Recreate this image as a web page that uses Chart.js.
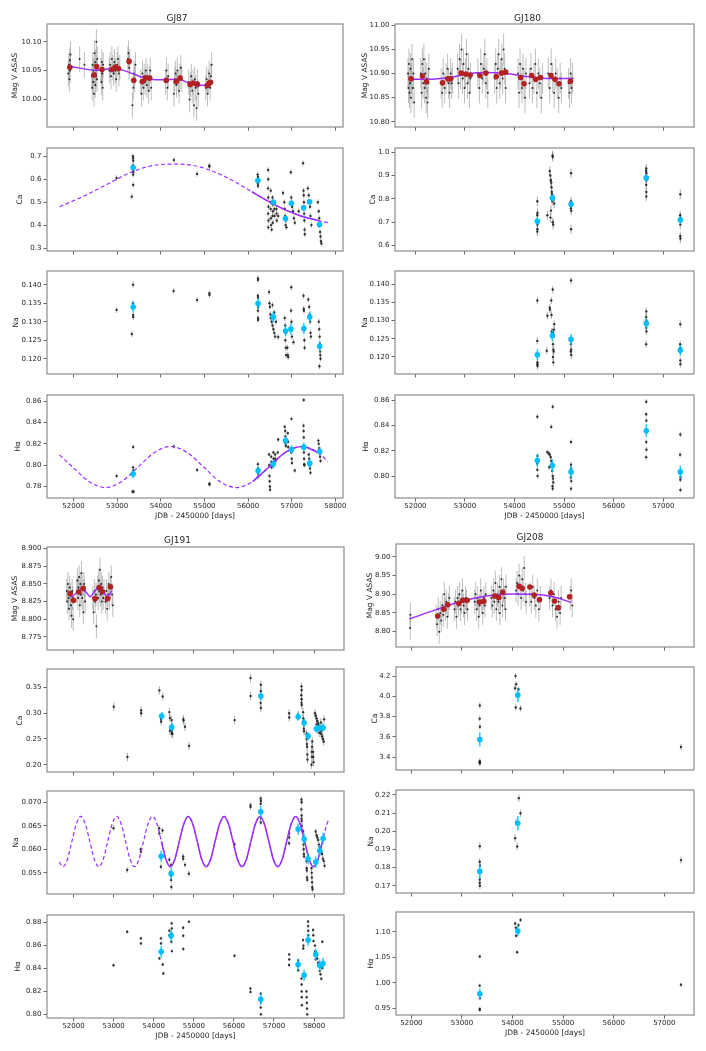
<!DOCTYPE html>
<html>
<head>
<meta charset="utf-8">
<script src="https://cdn.jsdelivr.net/npm/chart.js@4.4.0/dist/chart.umd.min.js"></script>
<style>
  body { margin: 0; background: #fff; width: 706px; height: 1051px; position: relative; overflow: hidden; }
  canvas { position: absolute; }
</style>
</head>
<body>
<script>
// ---------- shared tick labels ----------
const xTicksLong = [52000, 53000, 54000, 55000, 56000, 57000, 58000];
const xTicksShort = [52000, 53000, 54000, 55000, 56000, 57000];

// ---------- GJ87 ----------
const gj87Asas = [
  [51880,10.045],[51895,10.06],[51905,10.035],[51915,10.068],[51925,10.05],[51932,10.078],
  [52140,10.07],[52250,10.06],
  [52420,10.04],[52430,10.02],[52440,10.06],[52450,10.03],[52460,10.05],[52470,10.01],[52480,10.08],[52490,10.045],
  [52500,10.025],[52505,10.065],[52515,10.04],[52525,10.10],[52530,10.055],[52540,10.035],[52545,10.07],
  [52630,10.05],[52640,10.03],[52650,10.065],[52660,10.045],[52670,10.02],[52680,10.06],
  [52820,10.05],[52840,10.06],[52860,10.04],[52880,10.07],[52900,10.055],[52920,10.045],[52940,10.065],
  [52960,10.05],[52980,10.035],[53000,10.06],[53020,10.07],[53040,10.045],[53060,10.055],
  [53245,10.07],[53260,10.08],[53275,10.055],[53290,10.065],
  [53350,9.99],[53370,10.02],[53385,10.045],[53400,10.035],[53420,10.06],
  [53540,10.03],[53560,10.01],[53580,10.045],[53600,10.02],[53620,10.04],[53640,10.03],[53660,10.05],
  [53680,10.025],[53700,10.04],[53720,10.015],[53740,10.035],[53760,10.05],[53780,10.02],
  [54110,10.03],[54130,10.05],[54150,10.02],[54170,10.04],[54300,10.01],[54320,10.035],[54340,10.045],
  [54360,10.025],[54380,10.05],[54400,10.03],[54420,10.015],[54440,10.04],[54460,10.055],[54480,10.035],
  [54640,10.03],[54660,10.0],[54680,10.025],[54700,10.04],[54720,10.015],[54740,10.03],[54760,9.99],
  [54780,10.035],[54800,10.02],[54820,9.985],[54840,10.03],[54860,10.01],
  [55030,10.02],[55050,10.035],[55070,10.01],[55090,10.03],[55110,10.045],[55130,10.02],[55150,10.04],[55165,10.06]
];
const gj87Bins = [
  [51917,10.0558],[52470,10.0424],[52531,10.057],[52653,10.052],[52880,10.052],[52956,10.056],[53032,10.0535],
  [53275,10.066],[53381,10.033],[53578,10.031],[53654,10.037],[53745,10.037],[54124,10.033],[54352,10.031],
  [54443,10.037],[54671,10.026],[54747,10.0285],[54838,10.026],[55065,10.024],[55111,10.0285],[55141,10.0296]
];
const gj87AsasFit = [
  [51917,10.0576],[52516,10.0506],[52895,10.0535],[53085,10.0517],[53350,10.0448],[53578,10.0384],
  [53882,10.0343],[54413,10.0349],[54640,10.0285],[54868,10.0244],[55141,10.0244]
];
const gj87Ca = [
  [52986,0.605],[53335,0.524],[53362,0.70],[53366,0.69],[53370,0.68],[53364,0.66],[53368,0.64],[53372,0.63],[53366,0.62],[53368,0.575],
  [54299,0.684],[54830,0.623],[55111,0.659],[55115,0.655],
  [56220,0.62],[56226,0.61],[56230,0.60],[56224,0.58],[56228,0.57],
  [56460,0.64],[56462,0.60],[56458,0.56],[56464,0.52],[56466,0.48],[56460,0.45],[56468,0.42],[56462,0.39],
  [56520,0.55],[56524,0.50],[56518,0.47],[56522,0.43],[56526,0.40],
  [56560,0.52],[56564,0.49],[56568,0.46],[56562,0.44],[56566,0.41],[56540,0.38],
  [56600,0.50],[56604,0.47],[56608,0.44],[56650,0.47],[56654,0.45],[56658,0.42],[56690,0.44],
  [56800,0.54],[56830,0.50],[56840,0.47],[56850,0.44],[56870,0.42],[56860,0.40],[56880,0.39],
  [56980,0.63],[56990,0.52],[57000,0.50],[57010,0.48],[57030,0.46],[57050,0.43],[57070,0.41],[57160,0.46],
  [57260,0.67],[57270,0.55],[57275,0.53],[57280,0.50],[57285,0.45],[57290,0.42],[57295,0.38],[57300,0.36],
  [57370,0.56],[57390,0.53],[57400,0.50],[57420,0.48],[57430,0.44],[57450,0.40],
  [57600,0.50],[57620,0.46],[57630,0.43],[57640,0.40],[57650,0.37],[57660,0.35],[57670,0.33],[57680,0.32]
];
const gj87CaMean = [[53366,0.651],[56226,0.594],[56583,0.499],[56856,0.429],[56992,0.495],[57273,0.475],[57410,0.502],[57637,0.402]];
const gj87CaFit = [
  [51681,0.480],[52212,0.524],[52744,0.575],[53350,0.633],[53806,0.659],[54337,0.666],[54868,0.655],
  [55475,0.611],[56082,0.546],[56613,0.488],[57144,0.444],[57637,0.418],[57827,0.411]
];
const gj87CaSolid = [56082, 57637];
const gj87Na = [
  [52987,0.1332],[53336,0.1267],[53366,0.140],[53364,0.135],[53368,0.1345],[53366,0.1318],[53370,0.1313],
  [54293,0.1383],[54832,0.1359],[55113,0.1377],[55115,0.1372],
  [56226,0.1417],[56229,0.1413],[56224,0.137],[56228,0.1365],[56230,0.134],[56226,0.133],[56228,0.131],[56230,0.1305],
  [56480,0.138],[56490,0.135],[56500,0.134],[56510,0.132],[56520,0.131],[56540,0.130],[56560,0.129],[56580,0.128],
  [56600,0.127],[56620,0.126],[56560,0.1345],[56600,0.1325],[56640,0.130],[56690,0.1259],
  [56840,0.131],[56850,0.129],[56860,0.127],[56855,0.125],[56865,0.123],[56870,0.121],[56900,0.123],[56910,0.121],[56920,0.1205],
  [56990,0.1393],[56985,0.133],[56995,0.130],[57000,0.128],[57005,0.126],[57040,0.1245],
  [57270,0.137],[57275,0.1335],[57280,0.133],[57285,0.128],[57290,0.125],[57295,0.123],
  [57380,0.136],[57400,0.134],[57410,0.132],[57420,0.130],[57430,0.127],[57440,0.126],
  [57620,0.130],[57630,0.128],[57640,0.126],[57645,0.124],[57650,0.122],[57655,0.121],[57660,0.120],[57635,0.118]
];
const gj87NaMean = [[53367,0.134],[56229,0.1349],[56578,0.1313],[56859,0.1275],[56981,0.128],[57277,0.1282],[57413,0.1313],[57641,0.1234]];
const gj87Ha = [
  [52987,0.790],[53367,0.817],[53365,0.798],[53369,0.795],[53350,0.7753],[53380,0.7753],
  [54300,0.8175],[54832,0.7955],[55113,0.7828],[55117,0.782],
  [56226,0.801],[56228,0.797],[56230,0.792],[56224,0.789],
  [56480,0.810],[56485,0.800],[56490,0.790],[56495,0.785],[56500,0.780],[56505,0.777],
  [56530,0.808],[56535,0.803],[56540,0.798],[56580,0.812],[56585,0.806],[56590,0.802],
  [56620,0.810],[56625,0.806],[56630,0.804],[56680,0.812],[56690,0.824],
  [56840,0.836],[56850,0.832],[56855,0.827],[56860,0.820],[56865,0.818],[56910,0.830],[56915,0.822],[56920,0.817],
  [56995,0.8434],[56990,0.812],[57000,0.806],[57005,0.802],[57070,0.795],
  [57275,0.861],[57270,0.837],[57272,0.832],[57276,0.826],[57278,0.818],[57280,0.812],[57284,0.806],[57286,0.801],[57290,0.800],
  [57390,0.810],[57400,0.806],[57410,0.800],[57420,0.797],[57430,0.793],
  [57610,0.823],[57620,0.820],[57630,0.816],[57640,0.812],[57650,0.808],[57660,0.804]
];
const gj87HaMean = [[53367,0.7917],[56229,0.7948],[56578,0.8011],[56859,0.8231],[56996,0.8146],[57277,0.8169],[57413,0.8017],[57641,0.8128]];
const gj87HaFit = [
  [51681,0.8096],[51980,0.7983],[52355,0.7847],[52730,0.7791],[53105,0.7847],[53480,0.7983],[53855,0.8119],
  [54230,0.8175],[54605,0.8119],[54980,0.7983],[55355,0.7847],[55730,0.7791],[56105,0.7847],[56480,0.7983],
  [56855,0.8119],[57230,0.8175],[57605,0.8119],[57830,0.8035]
];
const gj87HaSolid = [56105, 57605];

// ---------- GJ180 ----------
const gj180Asas = [
  [51850,10.90],[51860,10.87],[51870,10.92],[51880,10.86],[51890,10.88],[51900,10.91],[51910,10.85],[51920,10.89],
  [51930,10.93],[51945,10.87],[51960,10.90],[51975,10.84],
  [52110,10.90],[52125,10.86],[52140,10.92],[52155,10.88],[52170,10.93],[52185,10.87],[52200,10.90],[52215,10.85],
  [52230,10.89],[52245,10.84],[52260,10.88],[52270,10.91],
  [52520,10.88],[52540,10.86],[52560,10.90],[52590,10.87],[52620,10.89],[52650,10.91],[52670,10.88],[52690,10.86],
  [52710,10.90],[52730,10.88],[52750,10.89],
  [52850,10.91],[52870,10.88],[52890,10.93],[52910,10.90],[52930,10.95],[52950,10.89],[52970,10.92],[52990,10.87],
  [53010,10.90],[53030,10.94],[53050,10.88],[53070,10.91],[53090,10.86],[53110,10.89],
  [53260,10.90],[53290,10.87],[53320,10.92],[53350,10.89],[53380,10.91],[53400,10.94],[53420,10.88],[53440,10.90],[53460,10.86],
  [53600,10.89],[53620,10.92],[53640,10.87],[53660,10.91],[53680,10.94],[53700,10.88],[53720,10.90],[53740,10.93],
  [53760,10.89],[53780,10.95],[53800,10.91],[53820,10.87],
  [54070,10.90],[54090,10.86],[54110,10.92],[54130,10.89],[54150,10.87],[54170,10.91],[54190,10.88],[54210,10.85],[54230,10.90],
  [54300,10.88],[54330,10.91],[54360,10.87],[54390,10.89],[54420,10.92],[54450,10.86],[54480,10.90],[54510,10.88],[54540,10.85],[54565,10.89],
  [54680,10.90],[54710,10.87],[54740,10.92],[54770,10.89],[54800,10.86],[54830,10.90],[54860,10.88],[54890,10.85],[54920,10.89],[54945,10.87],
  [55090,10.88],[55110,10.86],[55130,10.90],[55150,10.87],[55170,10.89]
];
const gj180Bins = [
  [51912,10.889],[52142,10.895],[52222,10.883],[52546,10.881],[52654,10.889],[52708,10.889],[52923,10.901],
  [53018,10.899],[53105,10.897],[53301,10.896],[53422,10.901],[53631,10.894],[53739,10.901],[53820,10.903],
  [54123,10.892],[54190,10.879],[54345,10.896],[54426,10.888],[54520,10.892],[54736,10.896],[54817,10.888],
  [54898,10.879],[55127,10.884]
];
const gj180AsasFit = [
  [51865,10.888],[52222,10.888],[52755,10.893],[53024,10.899],[53429,10.902],[53833,10.900],[54237,10.894],[54642,10.890],[55181,10.890]
];
const gj180Ca = [
  [54460,0.79],[54462,0.74],[54458,0.73],[54464,0.70],[54460,0.69],[54462,0.67],[54458,0.66],[54662,0.73],
  [54710,0.92],[54720,0.90],[54730,0.88],[54740,0.87],[54745,0.85],[54750,0.83],[54755,0.82],[54760,0.79],[54735,0.75],
  [54725,0.72],[54770,0.70],[54780,0.69],[54790,0.80],[54800,0.78],[54766,0.986],[54770,0.98],
  [55140,0.91],[55138,0.79],[55142,0.78],[55136,0.76],[55144,0.75],[55140,0.67],
  [56657,0.93],[56655,0.92],[56659,0.91],[56657,0.89],[56661,0.88],[56655,0.86],[56659,0.83],[56657,0.81],
  [57344,0.82],[57340,0.73],[57348,0.72],[57344,0.69],[57342,0.64],[57346,0.63]
];
const gj180CaMean = [[54460,0.704],[54763,0.804],[55140,0.777],[56657,0.89],[57344,0.71]];
const gj180Na = [
  [54460,0.1355],[54458,0.1244],[54462,0.1185],[54460,0.118],[54464,0.1175],[54662,0.1313],[54650,0.1217],
  [54710,0.1335],[54715,0.133],[54740,0.1355],[54745,0.1315],[54750,0.127],
  [54770,0.1385],[54768,0.1268],[54772,0.1265],[54776,0.1235],[54780,0.122],[54775,0.120],[54782,0.1185],
  [54790,0.1215],[54795,0.1275],[54800,0.129],
  [55140,0.141],[55138,0.1235],[55142,0.122],[55136,0.1215],[55144,0.1205],
  [56657,0.1325],[56655,0.131],[56659,0.130],[56657,0.128],[56661,0.127],[56655,0.1235],
  [57344,0.129],[57340,0.1235],[57348,0.1225],[57344,0.119],[57346,0.118]
];
const gj180NaMean = [[54460,0.1206],[54763,0.1258],[55140,0.1248],[56657,0.1292],[57344,0.1218]];
const gj180Ha = [
  [54460,0.847],[54462,0.816],[54458,0.810],[54460,0.805],[54464,0.800],
  [54660,0.819],[54690,0.818],[54710,0.817],[54730,0.815],[54740,0.812],[54750,0.809],[54700,0.807],[54760,0.804],
  [54770,0.800],[54775,0.798],[54780,0.795],[54765,0.792],[54770,0.790],[54740,0.839],[54770,0.855],
  [55140,0.827],[55138,0.809],[55142,0.806],[55136,0.799],[55144,0.796],[55140,0.790],
  [56657,0.859],[56655,0.849],[56659,0.844],[56657,0.827],[56661,0.821],[56655,0.815],
  [57344,0.833],[57340,0.817],[57348,0.799],[57344,0.797],[57346,0.789]
];
const gj180HaMean = [[54460,0.8123],[54763,0.8083],[55140,0.8033],[56657,0.836],[57344,0.8033]];

// ---------- GJ191 ----------
const gj191Asas = [
  [51830,8.84],[51845,8.825],[51860,8.85],[51875,8.83],[51890,8.815],[51905,8.845],[51920,8.835],[51935,8.82],
  [51950,8.805],[51965,8.84],[51980,8.83],[51990,8.80],
  [52080,8.84],[52095,8.855],[52110,8.83],[52125,8.845],[52140,8.86],[52155,8.82],[52170,8.85],[52185,8.835],
  [52200,8.865],[52215,8.83],[52230,8.845],[52245,8.81],[52260,8.85],[52275,8.84],[52290,8.825],
  [52480,8.83],[52500,8.81],[52520,8.84],[52540,8.825],[52560,8.835],[52570,8.79],
  [52600,8.845],[52615,8.83],[52630,8.855],[52645,8.84],[52660,8.87],[52675,8.835],[52690,8.85],[52705,8.825],
  [52720,8.845],[52740,8.83],[52760,8.84],
  [52800,8.825],[52820,8.84],[52840,8.815],[52860,8.835],[52880,8.85],[52900,8.83],[52920,8.845],[52940,8.86],
  [52960,8.835],[52980,8.82]
];
const gj191Bins = [[51917,8.8363],[52000,8.8268],[52133,8.8387],[52241,8.8439],[52539,8.8292],[52639,8.8449],[52714,8.8392],[52847,8.8292],[52921,8.8458]];
const gj191AsasFit = [
  [51876,8.8358],[51959,8.832],[52083,8.8382],[52207,8.8439],[52315,8.8382],[52415,8.832],[52523,8.8392],
  [52639,8.8463],[52747,8.8392],[52830,8.832],[52963,8.8406]
];
const gj191Ca = [
  [53004,0.3125],[53344,0.2149],[53685,0.3054],[53687,0.2998],
  [54141,0.3442],[54224,0.3325],[54180,0.2885],[54185,0.2838],[54390,0.3021],[54405,0.2906],[54405,0.266],
  [54448,0.2866],[54450,0.276],[54446,0.266],[54452,0.261],[54465,0.2595],
  [54739,0.2885],[54745,0.2856],[54780,0.2737],[54880,0.2362],
  [56017,0.2866],[56415,0.3681],[56415,0.3332],
  [56672,0.3552],[56670,0.343],[56674,0.334],[56668,0.32],[56672,0.31],
  [57378,0.300],[57380,0.2917],[57602,0.297],
  [57685,0.352],[57688,0.345],[57682,0.335],[57690,0.327],[57686,0.320],[57692,0.316],
  [57725,0.302],[57730,0.290],[57735,0.285],[57740,0.279],[57745,0.270],[57750,0.265],
  [57810,0.260],[57815,0.250],[57820,0.240],[57825,0.235],[57830,0.220],[57835,0.210],
  [57935,0.200],[57940,0.225],[57945,0.215],[57950,0.235],[57955,0.245],[57975,0.225],[57980,0.215],[57985,0.205],
  [58020,0.300],[58040,0.295],[58060,0.290],[58080,0.285],[58100,0.280],[58120,0.275],[58140,0.270],[58160,0.265],
  [58180,0.260],[58200,0.255],[58220,0.250],[58240,0.245],[58060,0.278],[58090,0.268],[58130,0.262],[58170,0.282],
  [58210,0.272],[58250,0.288]
];
const gj191CaMean = [[54199,0.2944],[54448,0.2724],[56672,0.3332],[57602,0.2931],[57751,0.2814],[57851,0.2556],[58058,0.2698],[58141,0.2711],[58224,0.2718]];
const gj191Na = [
  [52997,0.0645],[53338,0.0556],[53679,0.0600],[53681,0.0595],
  [54136,0.0645],[54138,0.0634],[54219,0.0640],[54180,0.0563],[54390,0.0578],[54405,0.0550],
  [54435,0.0567],[54437,0.0545],[54433,0.0535],[54439,0.0520],
  [54734,0.0585],[54736,0.0580],[54780,0.0567],[54877,0.0548],
  [56014,0.0611],[56413,0.0694],[56415,0.0690],
  [56670,0.0708],[56672,0.0703],[56668,0.0697],[56674,0.0667],[56670,0.0657],
  [57378,0.0634],[57380,0.0625],[57376,0.0613],
  [57685,0.0706],[57688,0.0700],[57682,0.0685],[57690,0.0672],[57686,0.0665],[57692,0.0660],[57695,0.0650],[57700,0.0640],
  [57725,0.0638],[57730,0.0625],[57735,0.0610],[57740,0.0600],[57745,0.0590],[57750,0.0585],
  [57810,0.0575],[57815,0.0560],[57820,0.0555],[57825,0.0540],[57830,0.0535],
  [57935,0.0560],[57940,0.0550],[57945,0.0540],[57950,0.0530],[57955,0.0520],[57960,0.0515],
  [58040,0.0638],[58060,0.0630],[58080,0.0625],[58100,0.0620],[58120,0.0610],[58140,0.0605],[58160,0.0600],
  [58180,0.0595],[58200,0.0590],[58220,0.0580],[58240,0.0575],[58260,0.0565]
];
const gj191NaMean = [[54186,0.0585],[54435,0.0548],[56670,0.0680],[57601,0.0643],[57751,0.0622],[57850,0.0580],[58041,0.0573],[58141,0.0597],[58224,0.0623]];
const gj191NaFitT = [
  51643, 51736, 51848, 51959, 52071, 52183, 52294, 52406, 52517, 52629, 52741, 52852, 52964, 53076, 53187, 53299,
  53410, 53522, 53634, 53745, 53857, 53969, 54080, 54192, 54303, 54415, 54527, 54638, 54750, 54862, 54973, 55085,
  55196, 55308, 55420, 55531, 55643, 55755, 55866, 55978, 56089, 56201, 56313, 56424, 56536, 56648, 56759, 56871,
  56982, 57094, 57206, 57317, 57429, 57541, 57652, 57764, 57875, 57987, 58099, 58210, 58322, 58374
];
const gj191NaFitV = [
  0.0573, 0.0563, 0.0579, 0.0617, 0.0654, 0.0670, 0.0654, 0.0617, 0.0579, 0.0563, 0.0579, 0.0617, 0.0654, 0.0670, 0.0654, 0.0617,
  0.0579, 0.0563, 0.0579, 0.0617, 0.0654, 0.0670, 0.0654, 0.0617, 0.0579, 0.0563, 0.0579, 0.0617, 0.0654, 0.0670, 0.0654, 0.0617,
  0.0579, 0.0563, 0.0579, 0.0617, 0.0654, 0.0670, 0.0654, 0.0617, 0.0579, 0.0563, 0.0579, 0.0617, 0.0654, 0.0670, 0.0654, 0.0617,
  0.0579, 0.0563, 0.0579, 0.0617, 0.0654, 0.0670, 0.0654, 0.0617, 0.0579, 0.0563, 0.0579, 0.0617, 0.0654, 0.0665
];
const gj191NaSolid = [54192, 58210];
const gj191Ha = [
  [52997,0.8429],[53338,0.8721],[53679,0.8663],[53681,0.8619],
  [54141,0.8488],[54180,0.8663],[54182,0.8619],[54224,0.8435],[54240,0.8356],
  [54390,0.8730],[54392,0.8690],[54440,0.8634],[54448,0.8794],[54450,0.8750],[54446,0.8707],[54452,0.8552],
  [54734,0.8756],[54736,0.8686],[54738,0.8570],[54877,0.8809],
  [56014,0.8511],[56413,0.8225],[56415,0.8196],
  [56670,0.818],[56672,0.811],[56668,0.806],[56674,0.800],
  [57378,0.8523],[57380,0.848],[57376,0.843],[57602,0.847],[57604,0.8385],
  [57685,0.8312],[57688,0.826],[57690,0.820],[57692,0.815],[57695,0.808],
  [57725,0.8648],[57730,0.8575],[57735,0.860],
  [57810,0.820],[57815,0.815],[57820,0.810],[57825,0.805],[57830,0.800],
  [57850,0.881],[57852,0.877],[57854,0.873],[57856,0.869],
  [57975,0.8736],[57980,0.869],[57985,0.864],[58020,0.860],[58030,0.855],[58040,0.848],
  [58080,0.8488],[58100,0.845],[58120,0.842],[58140,0.838],[58160,0.835],[58180,0.831],[58200,0.8405],[58220,0.8455],[58205,0.8634]
];
const gj191HaMean = [[54186,0.8546],[54435,0.8686],[56670,0.8131],[57601,0.8435],[57751,0.8342],[57850,0.8648],[58041,0.8523],[58141,0.8429],[58224,0.8444]];

// ---------- GJ208 ----------
const gj208Asas = [
  [51975,8.81],[51978,8.845],
  [52490,8.84],[52510,8.82],[52530,8.86],[52550,8.80],[52570,8.85],[52590,8.83],[52610,8.87],[52630,8.845],
  [52650,8.90],[52670,8.86],[52690,8.88],[52710,8.84],[52730,8.87],[52750,8.89],
  [52850,8.86],[52870,8.88],[52890,8.84],[52910,8.89],[52930,8.87],[52950,8.90],[52970,8.86],[52990,8.88],
  [53010,8.91],[53030,8.87],[53050,8.85],[53070,8.89],[53090,8.88],[53110,8.86],
  [53250,8.88],[53270,8.90],[53290,8.86],[53310,8.89],[53330,8.84],[53350,8.87],[53370,8.91],[53390,8.88],
  [53410,8.85],[53430,8.89],[53450,8.87],[53470,8.90],
  [53580,8.89],[53600,8.87],[53620,8.91],[53640,8.88],[53660,8.93],[53680,8.86],[53700,8.90],[53720,8.88],
  [53740,8.92],[53750,8.85],[53760,8.89],[53780,8.94],[53800,8.87],[53820,8.91],[53840,8.89],[53860,8.86],[53870,8.92],
  [54070,8.91],[54090,8.93],[54110,8.90],[54130,8.95],[54150,8.92],[54170,8.89],[54190,8.94],[54210,8.91],
  [54230,8.97],[54250,8.90],[54270,8.88],
  [54340,8.90],[54370,8.88],[54400,8.92],[54430,8.89],[54460,8.87],[54490,8.91],[54520,8.86],[54550,8.89],
  [54730,8.89],[54760,8.91],[54790,8.87],[54820,8.90],[54850,8.86],[54880,8.84],[54910,8.88],[54940,8.85],[54960,8.89],
  [55140,8.89],[55160,8.91],[55180,8.87]
];
const gj208Bins = [
  [52521,8.8418],[52640,8.8596],[52719,8.872],[52937,8.8756],[53016,8.8836],[53102,8.8836],[53346,8.8791],
  [53431,8.8809],[53649,8.8951],[53728,8.8907],[53807,8.9049],[54130,8.9209],[54190,8.9156],[54342,8.9191],
  [54427,8.8978],[54533,8.8853],[54757,8.9031],[54830,8.8818],[54902,8.864],[55127,8.8933]
];
const gj208AsasFit = [
  [51960,8.8338],[52488,8.8587],[53016,8.8818],[53477,8.8951],[54005,8.9004],[54401,8.8996],[54797,8.8933],[55160,8.8782]
];
const gj208Ca = [
  [53352,3.91],[53350,3.78],[53354,3.70],[53352,3.36],[53350,3.35],[53354,3.34],
  [54058,4.20],[54070,4.12],[54051,4.08],[54064,3.89],[54117,4.07],[54157,3.88],[57330,3.50]
];
const gj208CaMean = [[53352,3.575],[54104,4.0116]];
const gj208Na = [
  [53352,0.1918],[53350,0.1832],[53354,0.1812],[53352,0.1734],[53350,0.1716],[53354,0.170],
  [54051,0.1962],[54070,0.2050],[54091,0.1916],[54124,0.2182],[54157,0.2099],[57330,0.1841]
];
const gj208NaMean = [[53352,0.1779],[54104,0.2044]];
const gj208Ha = [
  [53352,1.0515],[53350,0.9945],[53354,0.970],[53352,0.949],[53350,0.947],
  [54051,1.116],[54064,1.108],[54070,1.092],[54091,1.060],[54117,1.113],[54157,1.123],[57330,0.9963]
];
const gj208HaMean = [[53352,0.9784],[54104,1.1013]];

// ---------- styling ----------
const FONT = 'DejaVu Sans';
const TXT = '#262626';
const FRAME = '#8c8c8c';
const FIT = '#9b30ff';
Chart.defaults.font.family = FONT;

const xy = a => a.map(p => ({ x: p[0], y: p[1] }));
const inRange = (a, r) => a.filter(p => p[0] >= r[0] && p[0] <= r[1]);

function asasDs(pts, err) {
  return { data: xy(pts), err, errColor: 'rgba(100,100,100,0.42)', pointRadius: 1,
    pointBackgroundColor: 'rgba(0,0,0,0.8)', pointBorderWidth: 0, order: 4 };
}
function grayDs(pts, err) {
  return { data: xy(pts), err, errColor: 'rgba(90,90,90,0.5)', pointRadius: 1.2,
    pointBackgroundColor: 'rgba(25,25,25,0.85)', pointBorderWidth: 0, order: 3 };
}
function meanDs(pts, err) {
  return { data: xy(pts), err, errColor: 'rgba(0,191,255,0.85)', errWidth: 1.5, pointRadius: 2.8,
    pointBackgroundColor: '#00bfff', pointBorderWidth: 0, order: 1 };
}
function binDs(pts) {
  return { data: xy(pts), pointRadius: 2.8, pointBackgroundColor: '#b22222', pointBorderWidth: 0, order: 1 };
}
function fitDs(pts, dashed) {
  return { type: 'line', data: xy(pts), borderColor: FIT, borderWidth: dashed ? 1.2 : 1.5,
    borderDash: dashed ? [4, 2.5] : [], pointRadius: 0, cubicInterpolationMode: 'monotone',
    fill: false, order: 2 };
}

// draws each dataset's vertical error bars just before its points
const errorBars = {
  id: 'errorBars',
  beforeDatasetDraw(chart, args) {
    const ds = chart.data.datasets[args.index];
    if (!ds.err) return;
    const y = chart.scales.y, a = chart.chartArea, ctx = chart.ctx;
    ctx.save();
    ctx.beginPath();
    ctx.rect(a.left, a.top, a.right - a.left, a.bottom - a.top);
    ctx.clip();
    ctx.strokeStyle = ds.errColor;
    ctx.lineWidth = ds.errWidth || 1;
    ctx.beginPath();
    args.meta.data.forEach((el, i) => {
      const v = ds.data[i].y;
      ctx.moveTo(el.x, y.getPixelForValue(v + ds.err));
      ctx.lineTo(el.x, y.getPixelForValue(v - ds.err));
    });
    ctx.stroke();
    ctx.restore();
  }
};

const frameBox = {
  id: 'frameBox',
  afterDraw(chart) {
    const a = chart.chartArea, ctx = chart.ctx;
    ctx.save();
    ctx.strokeStyle = FRAME;
    ctx.lineWidth = 1.2;
    ctx.strokeRect(a.left, a.top, a.right - a.left, a.bottom - a.top);
    ctx.restore();
  }
};

function addPanel(o) {
  const cv = document.createElement('canvas');
  const left = Math.round(o.labelX - 4.5);
  const yW = o.left - left;
  const hasTitle = o.title != null;
  const top = hasTitle ? Math.round(o.titleY - 5.4) : o.top - 8;
  const head = o.top - top;
  const xH = o.bottomAxis ? 24 : 8;
  const W = yW + o.width + 12, H = head + o.height + xH;
  cv.width = W; cv.height = H;
  cv.style.left = left + 'px'; cv.style.top = top + 'px';
  cv.style.width = W + 'px'; cv.style.height = H + 'px';
  document.body.appendChild(cv);

  const tickFont = { family: FONT, size: 7 };
  new Chart(cv, {
    type: 'scatter',
    data: { datasets: o.datasets },
    options: {
      responsive: false, animation: false, events: [], devicePixelRatio: 1,
      layout: { padding: { top: hasTitle ? 0 : head, right: 12, bottom: 0, left: 0 } },
      plugins: {
        legend: { display: false },
        tooltip: { enabled: false },
        title: hasTitle
          ? { display: true, text: o.title, color: TXT, font: { family: FONT, size: 9, weight: 'normal' },
              padding: { top: 0, bottom: head - 10.8 } }
          : { display: false }
      },
      scales: {
        x: {
          type: 'linear', min: o.xMin, max: o.xMax,
          afterBuildTicks: s => { s.ticks = o.xTicks.map(v => ({ value: v })); },
          afterFit: s => { s.height = xH; },
          grid: { display: true, drawOnChartArea: false, drawTicks: true, tickLength: 3.5, tickColor: '#666', tickWidth: 1 },
          border: { display: false },
          ticks: { autoSkip: false, maxRotation: 0, padding: 0, color: TXT, font: tickFont,
                   callback: v => o.bottomAxis ? String(v) : '' },
          title: o.bottomAxis
            ? { display: true, text: 'JDB - 2450000 [days]', color: TXT, font: { family: FONT, size: 7.5 }, padding: { top: 0, bottom: 1 } }
            : { display: false }
        },
        y: {
          type: 'linear', min: o.yMin, max: o.yMax,
          afterBuildTicks: s => { s.ticks = o.yTicks.map(v => ({ value: v })); },
          afterFit: s => { s.width = yW; },
          grid: { display: true, drawOnChartArea: false, drawTicks: true, tickLength: 3.5, tickColor: '#666', tickWidth: 1 },
          border: { display: false },
          ticks: { autoSkip: false, padding: 2, color: TXT, font: tickFont, callback: v => v.toFixed(o.dec) },
          title: { display: true, text: o.yTitle, color: TXT, font: { family: FONT, size: 7.5 }, padding: { top: 0, bottom: 0 } }
        }
      }
    },
    plugins: [errorBars, frameBox]
  });
}

function addStar(s) {
  s.panels.forEach((p, i) => {
    addPanel(Object.assign({
      left: s.left, width: s.width, top: s.tops[i], height: s.height,
      labelX: s.labelXs[i], xMin: s.xMin, xMax: s.xMax, xTicks: s.xTicks,
      bottomAxis: i === s.panels.length - 1,
      title: i === 0 ? s.name : null, titleY: s.titleY
    }, p));
  });
}

// ---------- build ----------
addStar({
  name: 'GJ87', left: 47, width: 296, tops: [24, 148, 271, 395], height: 103, titleY: 18,
  labelXs: [15, 20, 16, 18], xMin: 51393, xMax: 58175, xTicks: xTicksLong,
  panels: [
    { yTitle: 'Mag V ASAS', yMin: 9.952, yMax: 10.131, yTicks: [10.00, 10.05, 10.10], dec: 2,
      datasets: [asasDs(gj87Asas, 0.022), fitDs(gj87AsasFit, false), binDs(gj87Bins)] },
    { yTitle: 'Ca', yMin: 0.287, yMax: 0.736, yTicks: [0.3, 0.4, 0.5, 0.6, 0.7], dec: 1,
      datasets: [grayDs(gj87Ca, 0.012), fitDs(gj87CaFit, true), fitDs(inRange(gj87CaFit, gj87CaSolid), false), meanDs(gj87CaMean, 0.012)] },
    { yTitle: 'Na', yMin: 0.1159, yMax: 0.1437, yTicks: [0.120, 0.125, 0.130, 0.135, 0.140], dec: 3,
      datasets: [grayDs(gj87Na, 0.0008), meanDs(gj87NaMean, 0.0015)] },
    { yTitle: 'Hα', yMin: 0.7693, yMax: 0.8657, yTicks: [0.78, 0.80, 0.82, 0.84, 0.86], dec: 2,
      datasets: [grayDs(gj87Ha, 0.002), fitDs(gj87HaFit, true), fitDs(inRange(gj87HaFit, gj87HaSolid), false), meanDs(gj87HaMean, 0.004)] }
  ]
});

addStar({
  name: 'GJ180', left: 395, width: 299, tops: [24, 148, 271, 395], height: 103, titleY: 18,
  labelXs: [365, 373, 365, 366], xMin: 51588, xMax: 57620, xTicks: xTicksShort,
  panels: [
    { yTitle: 'Mag V ASAS', yMin: 10.789, yMax: 11.003, yTicks: [10.80, 10.85, 10.90, 10.95, 11.00], dec: 2,
      datasets: [asasDs(gj180Asas, 0.032), fitDs(gj180AsasFit, false), binDs(gj180Bins)] },
    { yTitle: 'Ca', yMin: 0.577, yMax: 1.018, yTicks: [0.6, 0.7, 0.8, 0.9, 1.0], dec: 1,
      datasets: [grayDs(gj180Ca, 0.02), meanDs(gj180CaMean, 0.015)] },
    { yTitle: 'Na', yMin: 0.1153, yMax: 0.1436, yTicks: [0.120, 0.125, 0.130, 0.135, 0.140], dec: 3,
      datasets: [grayDs(gj180Na, 0.001), meanDs(gj180NaMean, 0.0015)] },
    { yTitle: 'Hα', yMin: 0.7826, yMax: 0.8643, yTicks: [0.80, 0.82, 0.84, 0.86], dec: 2,
      datasets: [grayDs(gj180Ha, 0.002), meanDs(gj180HaMean, 0.005)] }
  ]
});

addStar({
  name: 'GJ191', left: 47, width: 297, tops: [547, 669, 791, 915], height: 103, titleY: 540,
  labelXs: [15, 20, 16, 18], xMin: 51338, xMax: 58746, xTicks: xTicksLong,
  panels: [
    { yTitle: 'Mag V ASAS', yMin: 8.7565, yMax: 8.9023, yTicks: [8.775, 8.800, 8.825, 8.850, 8.875, 8.900], dec: 3,
      datasets: [asasDs(gj191Asas, 0.017), fitDs(gj191AsasFit, false), binDs(gj191Bins)] },
    { yTitle: 'Ca', yMin: 0.1859, yMax: 0.3857, yTicks: [0.20, 0.25, 0.30, 0.35], dec: 2,
      datasets: [grayDs(gj191Ca, 0.008), meanDs(gj191CaMean, 0.008)] },
    { yTitle: 'Na', yMin: 0.0505, yMax: 0.0724, yTicks: [0.055, 0.060, 0.065, 0.070], dec: 3,
      datasets: (() => {
        const fit = gj191NaFitT.map((t, i) => [t, gj191NaFitV[i]]);
        return [grayDs(gj191Na, 0.0006), fitDs(fit, true), fitDs(inRange(fit, gj191NaSolid), false), meanDs(gj191NaMean, 0.0012)];
      })() },
    { yTitle: 'Hα', yMin: 0.7968, yMax: 0.8867, yTicks: [0.80, 0.82, 0.84, 0.86, 0.88], dec: 2,
      datasets: [grayDs(gj191Ha, 0.0015), meanDs(gj191HaMean, 0.005)] }
  ]
});

addStar({
  name: 'GJ208', left: 396, width: 298, tops: [544, 667, 790, 912], height: 103, titleY: 537,
  labelXs: [370, 375, 371, 371], xMin: 51695, xMax: 57588, xTicks: xTicksShort,
  panels: [
    { yTitle: 'Mag V ASAS', yMin: 8.759, yMax: 9.034, yTicks: [8.80, 8.85, 8.90, 8.95, 9.00], dec: 2,
      datasets: [asasDs(gj208Asas, 0.032), fitDs(gj208AsasFit, false), binDs(gj208Bins)] },
    { yTitle: 'Ca', yMin: 3.274, yMax: 4.289, yTicks: [3.4, 3.6, 3.8, 4.0, 4.2], dec: 1,
      datasets: [grayDs(gj208Ca, 0.03), meanDs(gj208CaMean, 0.07)] },
    { yTitle: 'Na', yMin: 0.166, yMax: 0.2227, yTicks: [0.17, 0.18, 0.19, 0.20, 0.21, 0.22], dec: 2,
      datasets: [grayDs(gj208Na, 0.002), meanDs(gj208NaMean, 0.004)] },
    { yTitle: 'Hα', yMin: 0.937, yMax: 1.1386, yTicks: [0.95, 1.00, 1.05, 1.10], dec: 2,
      datasets: [grayDs(gj208Ha, 0.004), meanDs(gj208HaMean, 0.01)] }
  ]
});
</script>
</body>
</html>
